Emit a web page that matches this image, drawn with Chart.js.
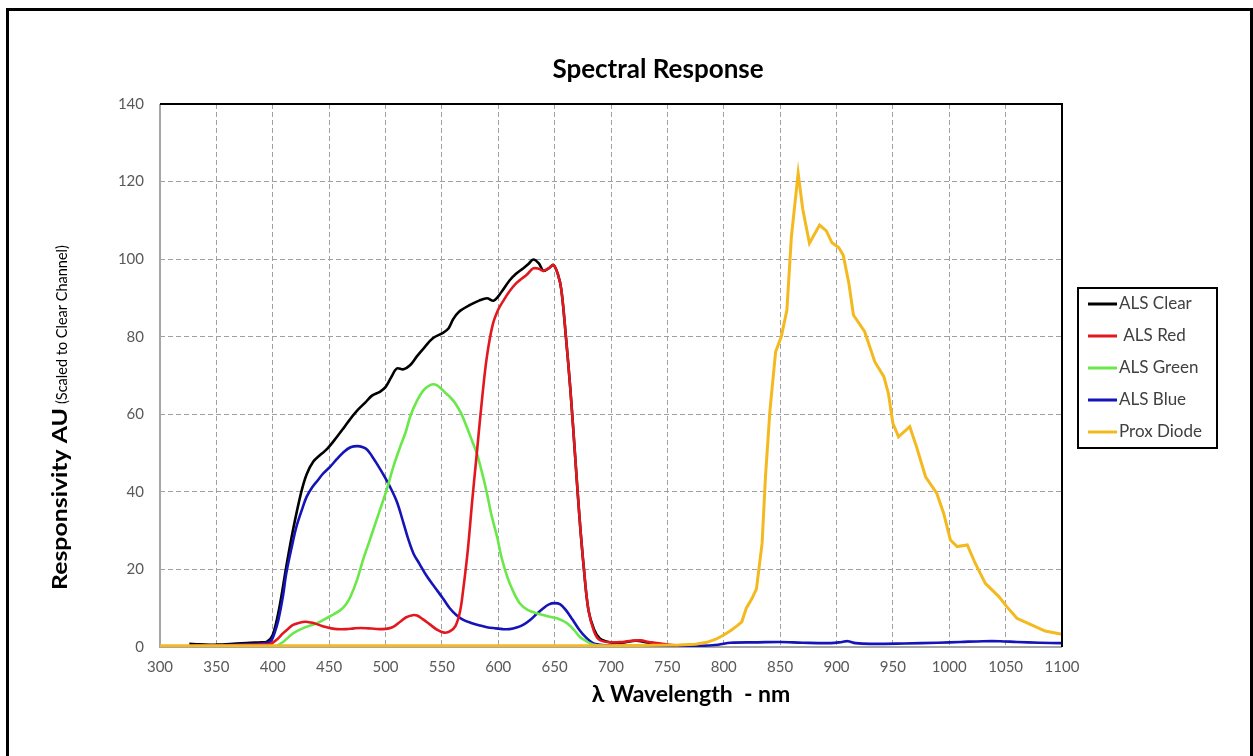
<!DOCTYPE html>
<html><head><meta charset="utf-8">
<script src="https://cdn.jsdelivr.net/npm/chart.js@4"></script>
<style>
html,body{margin:0;padding:0;background:#fff;}
#wrap{position:relative;width:1253px;height:756px;overflow:hidden;background:#fff;}
#frame{position:absolute;left:6px;top:8px;width:1247px;height:770px;border:3px solid #000;box-sizing:border-box;pointer-events:none;}
canvas{position:absolute;left:0;top:0;}
</style></head><body>
<div id="wrap"><canvas id="c" width="1253" height="756"></canvas><div id="frame"></div></div>
<script>
const seriesNames = ['ALS Clear', ' ALS Red', 'ALS Green', 'ALS Blue', 'Prox Diode'];
const xTicks = [300,350,400,450,500,550,600,650,700,750,800,850,900,950,1000,1050,1100];
const yTicks = [0,20,40,60,80,100,120,140];

const clearNm  = [326,335,350,365,380,390,395,400,406,412,418,425,430,436,442,448,457,463,468,475,482,488,495,500,505,510,516,522,528,535,542,551,556,560,565,575,583,590,596,603,610,616,622,627,631,636,640,645,649,653,656,660,664,668,672,676,680,685,690,696,702,712,722,732,741,750];
const clearVal = [0.8,0.7,0.6,0.8,1.1,1.2,1.4,3.1,10.4,20.7,30.2,39.6,44.5,47.8,49.5,51,54.2,56.5,58.5,61,63,64.8,65.8,67,69.5,71.8,71.6,72.7,75,77.4,79.6,81,82.2,84.5,86.4,88.2,89.3,89.9,89.3,91.6,94.5,96.3,97.6,98.8,99.9,98.9,97,97.7,98.5,96,92,80,66.3,50,33.6,20,9.5,4.5,2.2,1.4,1.1,1.2,1.6,1.2,0.8,0.4];

const redNm  = [330,360,390,398,404,409,414,418,423,429,434,439,446,452,457,465,472,478,485,490,497,503,508,513,518,524,528,533,539,546,552,557,562,566,569,573,577,581,586,590,595,600,605,610,616,621,625,631,636,640,645,649,653,656,660,664,668,672,676,680,685,690,700,710,718,726,735,744,752,760];
const redVal = [0.3,0.4,0.6,0.8,2,3.5,4.8,5.7,6.2,6.5,6.3,5.9,5.2,4.8,4.6,4.6,4.8,4.9,4.8,4.7,4.6,4.8,5.4,6.5,7.6,8.2,8.1,7.2,5.9,4.4,3.7,4.0,5.4,9,15,25,38,50,65,75,83,87,89.5,91.7,93.8,95,95.9,97.6,97.5,97,97.7,98.5,96,92,80,66.3,50,33.6,20,9.5,4,1.8,1.2,1.3,1.6,1.7,1.2,0.9,0.6,0.4];

const greenNm  = [403,410,418,428,439,450,460,465,469,475,480,486,492,497,501,507,513,518,522,528,534,540,544,548,554,558,562,567,572,577,581,586,590,594,599,603,608,613,619,626,634,643,652,657,661,667,672,677,681,686,695];
const greenVal = [0.2,1.5,3.5,5,6.1,7.8,9.5,11,13,17.5,22.4,27.5,32.7,37,40.5,46.5,51.6,55.5,59.5,63.5,66.3,67.6,67.7,67.0,65.3,64.2,62.8,60.3,56.8,53,49.9,44.5,39.6,34,28.4,23,18.1,14.5,11.3,9.6,8.7,8,7.4,6.8,6.1,4.5,2.7,1.7,1,0.5,0.2];

const blueNm  = [345,370,390,396,399,402,405,409,412,417,421,426,430,435,440,445,451,457,463,469,475,480,484,488,492,498,504,510,516,520,525,530,537,544,551,557,563,569,576,583,590,598,604,610,617,622,628,634,640,645,650,655,660,666,672,678,684,690,700,720,750,780,795,806,830,850,870,895,905,910,917,930,960,990,1010,1030,1045,1060,1080,1100];
const blueVal = [0.4,0.6,0.9,1.2,1.8,4,7,13,19,26,31,35.5,38.7,41.2,43,44.8,46.5,48.5,50.3,51.5,51.8,51.5,50.8,49.2,47.4,44.5,41.3,37.5,31.9,28,24,21.5,18.1,15.3,12.5,10,8.2,7,6.2,5.6,5.1,4.8,4.6,4.6,5.1,5.7,6.9,8.5,10,11,11.3,11,9.5,7,4.4,2.4,1,0.6,0.4,0.3,0.2,0.3,0.6,1.1,1.2,1.3,1.1,1.0,1.3,1.5,1.0,0.8,0.9,1.1,1.3,1.5,1.5,1.3,1.1,1.0];

const proxNm  = [300,400,500,600,700,760,775,785,793,800,806,812,816,820,825,829,834,837,841,846,851,856,860,866,870,876,885,891,896,902,906,911,915,925,934,942,946,950,955,965,971,979,989,995,1001,1007,1016,1023,1032,1044,1051,1060,1070,1085,1100];
const proxVal = [0.3,0.3,0.3,0.3,0.3,0.5,0.7,1.2,2,3.1,4.2,5.5,6.5,10,12.5,15,26.7,43.9,61.1,76.1,80,86.9,105.8,122.1,113,104.1,108.8,107.3,104.2,103,101,93.7,85.6,81.3,73.5,69.7,65.4,57.7,54.2,56.8,51.6,43.9,39.6,34.5,27.6,25.9,26.3,21.6,16.4,13,10.4,7.4,6.1,4.1,3.3];

const colors = ['#000000', '#e3181f', '#6ae84a', '#1414b8', '#f3b91e'];

function pts(xs, ys){ return xs.map((x,i)=>({x:x, y:ys[i]})); }

const FONT = 'Lato, "Open Sans", sans-serif';

const decor = {
  id: 'decor',
  beforeDatasetsDraw(chart){
    const {ctx, chartArea:a} = chart;
    ctx.save();
    ctx.strokeStyle = '#a6a6a6';
    ctx.lineWidth = 2;
    ctx.beginPath();
    ctx.moveTo(a.left, a.top); ctx.lineTo(a.left, a.bottom); ctx.lineTo(a.right, a.bottom);
    ctx.stroke();
    ctx.restore();
  },
  afterDatasetsDraw(chart){
    const {ctx, chartArea:a} = chart;
    ctx.save();
    ctx.strokeStyle = '#000';
    ctx.lineWidth = 2;
    ctx.beginPath();
    ctx.moveTo(a.left, a.top); ctx.lineTo(a.right, a.top); ctx.lineTo(a.right, a.bottom);
    ctx.stroke();
    ctx.restore();
  },
  afterDraw(chart){
    const {ctx} = chart;
    ctx.save();
    ctx.fillStyle = '#000';
    ctx.font = 'bold 26px ' + FONT;
    ctx.textAlign = 'center';
    ctx.textBaseline = 'middle';
    ctx.fillText('Spectral Response', 658, 70);
    ctx.font = 'bold 23px ' + FONT;
    ctx.fillText('λ Wavelength  - nm', 691, 695);
    // y-axis title (two sizes)
    ctx.save();
    ctx.translate(67, 590);
    ctx.rotate(-Math.PI/2);
    ctx.textAlign = 'left';
    ctx.textBaseline = 'alphabetic';
    ctx.font = 'bold 21px ' + FONT;
    const big = 'Responsivity AU';
    const w = ctx.measureText(big).width;
    const sx = 182 / w;
    ctx.save();
    ctx.scale(sx, 1);
    ctx.fillText(big, 0, 0);
    ctx.restore();
    ctx.font = '14.5px ' + FONT;
    ctx.fillText('(Scaled to Clear Channel)', 186, 0);
    ctx.restore();
    // legend
    ctx.strokeStyle = '#000';
    ctx.lineWidth = 2;
    ctx.fillStyle = '#fff';
    ctx.fillRect(1078, 288, 139, 160);
    ctx.strokeRect(1078, 288, 139, 160);
    const ys = [304, 336, 368, 400, 432];
    ctx.font = '17px ' + FONT;
    ctx.textAlign = 'left';
    ctx.textBaseline = 'middle';
    chart.data.datasets.forEach((ds, i) => {
      ctx.strokeStyle = ds.borderColor;
      ctx.lineWidth = 3;
      ctx.beginPath();
      ctx.moveTo(1088, ys[i]); ctx.lineTo(1117, ys[i]);
      ctx.stroke();
      ctx.fillStyle = '#404040';
      ctx.fillText(ds.label, 1119, ys[i]);
    });
    ctx.restore();
  }
};

const datasets = [
  {label: seriesNames[0], data: pts(clearNm, clearVal), borderColor: colors[0], order: 5},
  {label: seriesNames[1], data: pts(redNm, redVal), borderColor: colors[1], order: 2},
  {label: seriesNames[2], data: pts(greenNm, greenVal), borderColor: colors[2], order: 3},
  {label: seriesNames[3], data: pts(blueNm, blueVal), borderColor: colors[3], order: 4},
  {label: seriesNames[4], data: pts(proxNm, proxVal), borderColor: colors[4], order: 1, tension: 0, borderWidth: 3}
].map(d => Object.assign({borderWidth: 2.6, pointRadius: 0, fill: false, tension: 0.35, backgroundColor: d.borderColor}, d));

const gridColor = (edgeA, edgeB) => (c) => (c.tick && (c.tick.value === edgeA || c.tick.value === edgeB)) ? 'rgba(0,0,0,0)' : '#a0a0a0';

new Chart(document.getElementById('c'), {
  type: 'line',
  data: { datasets },
  options: {
    responsive: false,
    animation: false,
    events: [],
    layout: { padding: { left: 0, top: 104, right: 191, bottom: 69 } },
    plugins: { legend: { display: false }, title: { display: false }, tooltip: { enabled: false } },
    scales: {
      x: {
        type: 'linear', min: 300, max: 1100,
        afterBuildTicks(s){ s.ticks = xTicks.map(v => ({value: v})); },
        afterFit(s){ s.height = 40; },
        ticks: { color: '#595959', font: { family: FONT, size: 15 }, padding: 11, autoSkip: false, maxRotation: 0, callback: v => String(v) },
        grid: { drawTicks: false, color: gridColor(300, 1100), lineWidth: 1 },
        border: { display: false, dash: [5, 3] }
      },
      y: {
        type: 'linear', min: 0, max: 140,
        afterBuildTicks(s){ s.ticks = yTicks.map(v => ({value: v})); },
        afterFit(s){ s.width = 160; },
        ticks: { color: '#595959', font: { family: FONT, size: 15 }, padding: 16, callback: v => String(v) },
        grid: { drawTicks: false, color: gridColor(0, 140), lineWidth: 1 },
        border: { display: false, dash: [5, 3] }
      }
    }
  },
  plugins: [decor]
});
</script>
</body></html>
